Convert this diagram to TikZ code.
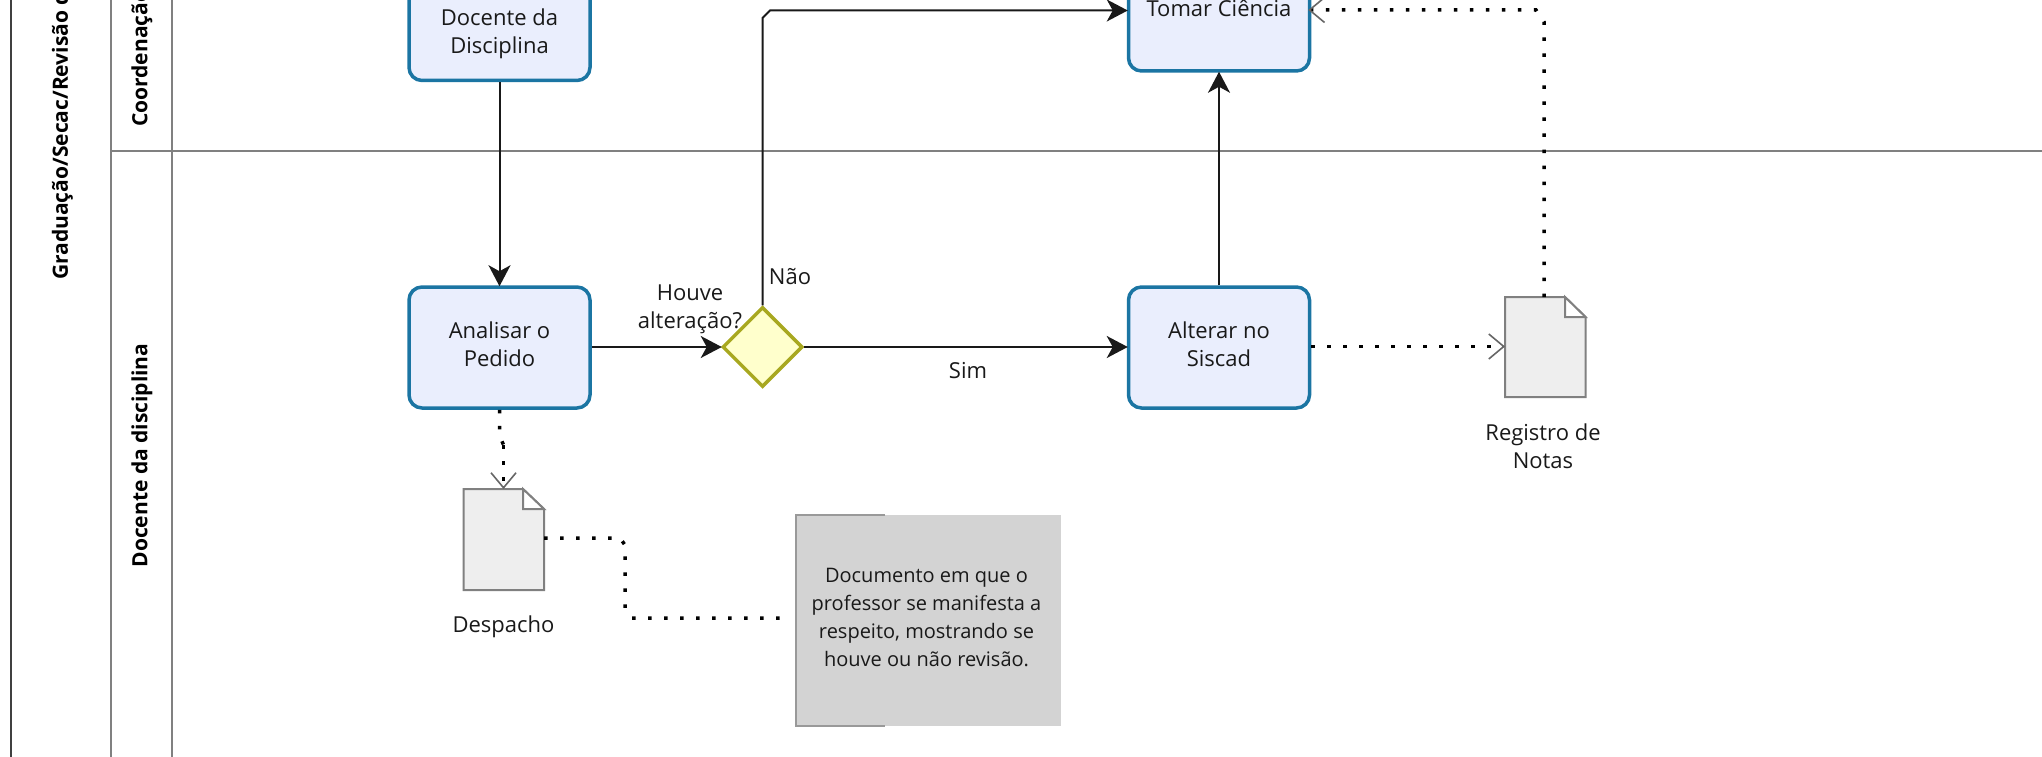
\documentclass[tikz,border=0pt]{standalone}
\usepackage{fontspec}
\setmainfont{Open Sans}
\usetikzlibrary{arrows.meta,shapes.geometric}
\definecolor{taskfill}{HTML}{EAEEFD}
\definecolor{taskline}{HTML}{1B75A3}
\definecolor{gwfill}{HTML}{FFFFCC}
\definecolor{gwline}{HTML}{A8A820}
\definecolor{docfill}{HTML}{EEEEEE}
\definecolor{lanegray}{HTML}{808080}
\definecolor{notefill}{HTML}{D3D3D3}
\tikzset{
  x=1pt,y=-1pt,
  every node/.style={font=\fontsize{22}{28}\selectfont,text=black!90,inner sep=0pt,align=center},
  task/.style={draw=taskline,fill=taskfill,line width=3.5pt,rounded corners=13pt,minimum width=181pt,minimum height=121pt},
  gate/.style={diamond,aspect=1,draw=gwline,fill=gwfill,line width=3.5pt,minimum width=80pt,minimum height=80pt},
  lane/.style={draw=lanegray,line width=2pt},
  flow/.style={draw=black!90,line width=2pt,shorten >=-1pt,-{Stealth[length=21pt,width=22pt,inset=6pt]}},
  assocp/.style={draw=black,line width=3.5pt,dash pattern=on 3.5pt off 12.5pt},
  assoc/.style={assocp,-{Straight Barb[length=15pt,width=25pt,line width=1.6pt,color=black!60,sharp]}},
  docshape/.style={draw=lanegray,fill=docfill,line width=2pt},
  lanetext/.style={font=\fontsize{21}{24}\selectfont\bfseries,rotate=90,text=black},
  notetext/.style={font=\fontsize{20}{28}\selectfont}
}
\begin{document}
\begin{tikzpicture}
\useasboundingbox (0,0) rectangle (2042,757);
\clip (0,0) rectangle (2042,757);
% lanes
\draw[draw=black!75,line width=1.8pt] (11,0) -- (11,757);
\draw[lane] (111,0) -- (111,757);
\draw[lane] (171.5,0) -- (171.5,757);
\draw[lane] (111,151) -- (2042,151);
\node[lanetext,anchor=west] (pool) at (62.5,280) {Graduação/Secac/Revisão d};
\node[lanetext,anchor=west] (l1) at (142,127) {Coordenação};
\node[lanetext] (l2) at (142,455.5) {Docente da disciplina};
% tasks
\node[task] (doc) at (499.5,20) {};
\node (doct) at (499.5,34) {Docente da\\Disciplina};
\node[task] (tomar) at (1219,10.5) {};
\node (tomt) at (1219,8) {Tomar Ciência};
\node[task] (anal) at (499.5,347.5) {};
\node (analt) at (499.5,344.5) {Analisar o\\Pedido};
\node[task] (alt) at (1219,347.5) {};
\node (altt) at (1219,344.5) {Alterar no\\Siscad};
\node[gate] (gw) at (762.5,347) {};
% documents
\draw[docshape] (463.5,489) -- (523,489) -- (544,509) -- (544,590) -- (463.5,590) -- cycle;
\draw[docshape,fill=white] (523,489) -- (523,509) -- (544,509) -- cycle;
\coordinate (dd) at (503.5,489);
\coordinate (dr) at (544,538);
\node (ddl) at (503.5,627) {Despacho};
\draw[docshape] (1505,297) -- (1565,297) -- (1585.5,317) -- (1585.5,397) -- (1505,397) -- cycle;
\draw[docshape,fill=white] (1565,297) -- (1565,317) -- (1585.5,317) -- cycle;
\coordinate (rt) at (1544,297);
\coordinate (rl) at (1505,346.5);
\node (rdl) at (1543,446) {Registro de\\Notas};
% note
\fill[notefill] (796,515) rectangle (1061,726);
\draw[black!40,line width=1.5pt] (885,515) -- (796,515) -- (796,726) -- (885,726);
\coordinate (nl) at (784,618);
\node[notetext] (nt) at (926.5,617) {Documento em que o\\professor se manifesta a\\respeito, mostrando se\\houve ou não revisão.};
% labels
\node (ha) at (690,309) {Houve\\alteração?};
\node (nao) at (790,277) {Não};
\node (sim) at (968,371) {Sim};
% flows
\draw[flow] (doc.south) -- (anal.north);
\draw[flow] (anal.east |- 0,347) -- (gw.west);
\draw[flow] (gw.east) -- (alt.west |- gw.east);
\draw[flow] (alt.north) -- (tomar.south);
\coordinate (tl) at (tomar.west |- 0,10.5);
\draw[flow] (gw.north) -- (762.5,18) -- (770,10.5) -- (tl);
% associations
\draw[assocp] (anal.south) -- (499.5,435) -- (503.5,445);
\draw[assoc] (503.5,445) -- (dd);
\draw[assoc] (alt.east |- rl) -- (rl);
\draw[assocp] (dr) -- (620,538) -- (625,545) -- (625,608) -- (632,618) -- (nl);
\draw[assoc,shorten >=-3pt] (rt) -- (1544,22) -- (1536,10) -- (tomar.east |- 0,10);
\end{tikzpicture}
\end{document}
